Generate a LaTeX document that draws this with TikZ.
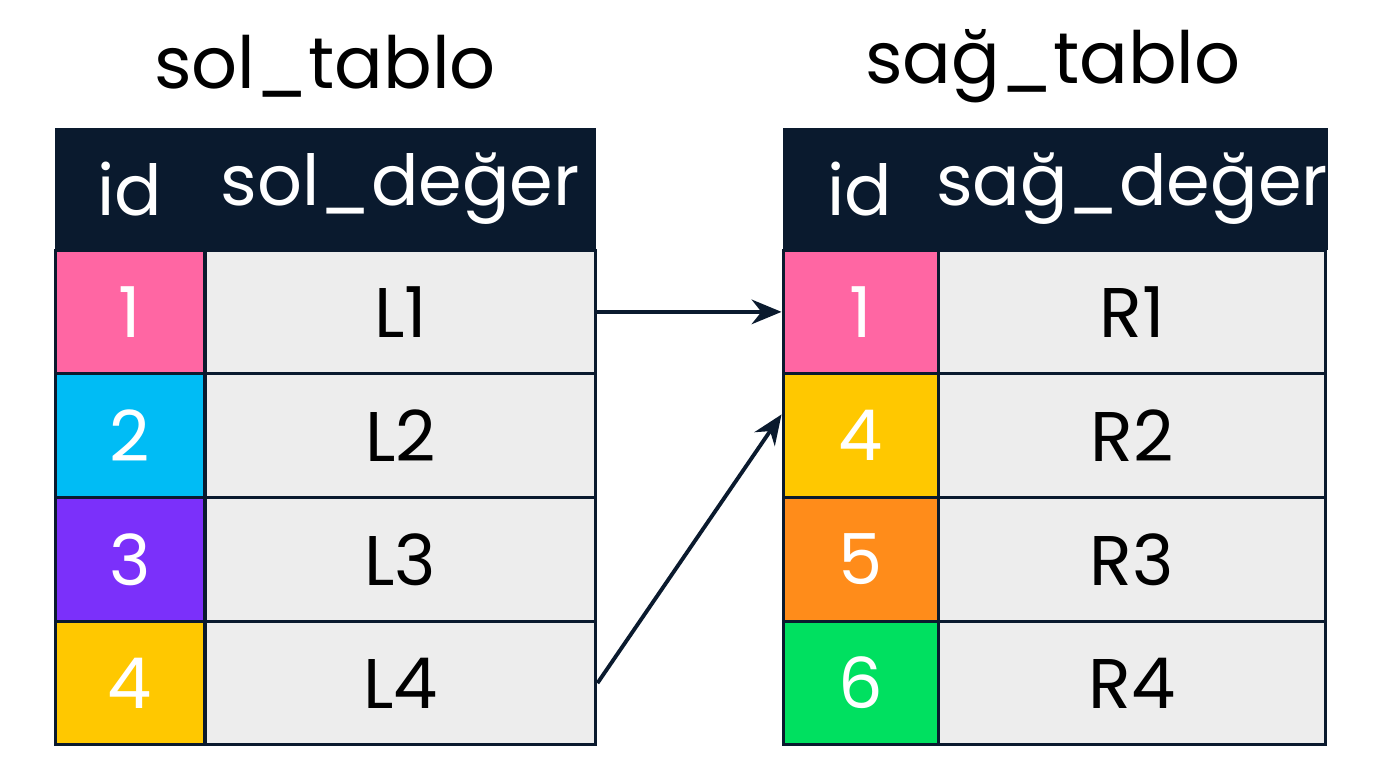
\documentclass[tikz,border=0pt]{standalone}
\usepackage{fontspec}
\setmainfont{Poppins}
\usetikzlibrary{positioning,arrows.meta}

\definecolor{headc}{HTML}{0A1A2E}
\definecolor{cellc}{HTML}{EDEDED}
\definecolor{pinkc}{HTML}{FF66A3}
\definecolor{bluec}{HTML}{00BCF5}
\definecolor{purplec}{HTML}{7B30FA}
\definecolor{yellowc}{HTML}{FFC800}
\definecolor{orangec}{HTML}{FF8C1A}
\definecolor{greenc}{HTML}{00E060}

\tikzset{
  cell/.style={draw=headc, line width=1.7pt, minimum height=2.47cm, inner sep=0pt, font=\fontsize{40}{46}\selectfont},
  idcell/.style={cell, text=white},
  headcell/.style={fill=headc, text=white, minimum height=2.44cm, inner sep=0pt, font=\fontsize{40}{46}\selectfont},
  title/.style={font=\fontsize{41}{48}\selectfont},
  link/.style={draw=headc, line width=2.2pt, -{Stealth[length=17pt,width=14pt]}}
}

\begin{document}
\begin{tikzpicture}[x=0.02cm,y=-0.02cm]

\useasboundingbox (0,0) rectangle (1380,768);

% titles
\node (ltitle) [title] at (325,66) {sol\_tablo};
\node (rtitle) [title] at (1053,66) {sağ\_tablo};

% headers
\node (lhead) [headcell, minimum width=10.82cm] at (325.5,189) {};
\node (lhid) at (130,189) [headcell] {id};
\node (lhval) at (400,189) [headcell] {sol\_değer};
\node (rhead) [headcell, minimum width=10.86cm] at (1054.5,189) {};
\node (rhid) at (860,189) [headcell] {id};
\node (rhval) at (1132,189) [headcell] {sağ\_değer};

% rows
\foreach \i/\id/\col/\val [evaluate=\i as \y using 250+(\i-0.5)*123.75] in {1/1/pinkc/L1,2/2/bluec/L2,3/3/purplec/L3,4/4/yellowc/L4}{
  \node (lid\i) [idcell, fill=\col, minimum width=3cm] at (130,\y) {\id};
  \node (lval\i) [cell, fill=cellc, minimum width=7.82cm] at (400.5,\y) {\val};
}
\foreach \i/\id/\col/\val [evaluate=\i as \y using 250+(\i-0.5)*123.75] in {1/1/pinkc/R1,2/4/yellowc/R2,3/5/orangec/R3,4/6/greenc/R4}{
  \node (rid\i) [idcell, fill=\col, minimum width=3.1cm] at (860.5,\y) {\id};
  \node (rval\i) [cell, fill=cellc, minimum width=7.76cm] at (1132,\y) {\val};
}

% links
\draw[link] (lval1.east) -- (rid1.west);
\draw[link] (lval4.east) -- (rid2.165);

\end{tikzpicture}
\end{document}
